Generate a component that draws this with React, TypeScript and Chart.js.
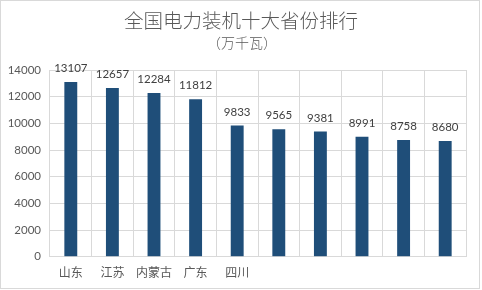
import React, { useEffect, useRef } from "react";
import { Chart, registerables } from "chart.js";

Chart.register(...registerables);

const categories = ["山东", "江苏", "内蒙古", "广东", "四川", "", "", "", "", ""];
const capacity = [13107, 12657, 12284, 11812, 9833, 9565, 9381, 8991, 8758, 8680];
const titleText = "全国电力装机十大省份排行";
const subtitleText = "（万千瓦）";

const NUM_FONT = "Lato, 'Noto Sans CJK SC', sans-serif";
const CJK_FONT = "'Noto Sans CJK SC', sans-serif";

export default function App() {
  const ref = useRef<HTMLCanvasElement | null>(null);
  useEffect(() => {
    document.body.style.margin = "0";
    const canvas = ref.current!;
    const deco = {
      id: "deco",
      beforeDraw(chart: any) {
        const c = chart.ctx;
        c.save();
        c.fillStyle = "#ffffff";
        c.fillRect(0, 0, chart.width, chart.height);
        c.restore();
      },
      afterDraw(chart: any) {
        const c = chart.ctx;
        c.save();
        c.fillStyle = "#595959";
        c.textAlign = "center";
        c.textBaseline = "middle";
        c.font = `300 19.5px ${CJK_FONT}`;
        c.fillText(titleText, 241, 21);
        c.font = `300 14px ${CJK_FONT}`;
        c.fillText(subtitleText, 242, 43);
        // data labels
        const meta = chart.getDatasetMeta(0);
        c.fillStyle = "#404040";
        c.font = `11.5px ${NUM_FONT}`;
        c.textBaseline = "alphabetic";
        meta.data.forEach((bar: any, i: number) => {
          c.fillText(String(capacity[i]), bar.x, bar.y - 10);
        });
        c.strokeStyle = "#d9d9d9";
        c.lineWidth = 1;
        c.strokeRect(0.5, 0.5, 479, 288);
        c.restore();
      },
    };
    const chart = new Chart(canvas, {
      type: "bar",
      data: {
        labels: categories,
        datasets: [
          {
            data: capacity,
            backgroundColor: "#1f4e79",
            barPercentage: 0.31,
            categoryPercentage: 1,
          },
        ],
      },
      options: {
        animation: false,
        responsive: false,
        devicePixelRatio: 1,
        layout: { padding: { top: 70, left: 0, right: 16, bottom: 0 } },
        plugins: { legend: { display: false }, tooltip: { enabled: false } },
        scales: {
          x: {
            grid: { color: "#d9d9d9", drawTicks: false, offset: true },
            border: { display: false },
            ticks: {
              color: "#595959",
              font: { family: CJK_FONT, size: 12 },
              padding: 9,
              maxRotation: 0,
              autoSkip: false,
            },
            afterFit(scale: any) {
              scale.height = 33.3;
            },
          },
          y: {
            min: 0,
            max: 14000,
            grid: { color: "#d9d9d9", drawTicks: false },
            border: { display: false },
            ticks: {
              stepSize: 2000,
              color: "#595959",
              font: { family: NUM_FONT, size: 11.5 },
              padding: 9,
              callback: (v: any) => String(v),
            },
            afterFit(scale: any) {
              scale.width = 50;
            },
          },
        },
      },
      plugins: [deco],
    });
    return () => chart.destroy();
  }, []);
  return <canvas ref={ref} width={482} height={290} style={{ display: "block" }} />;
}
